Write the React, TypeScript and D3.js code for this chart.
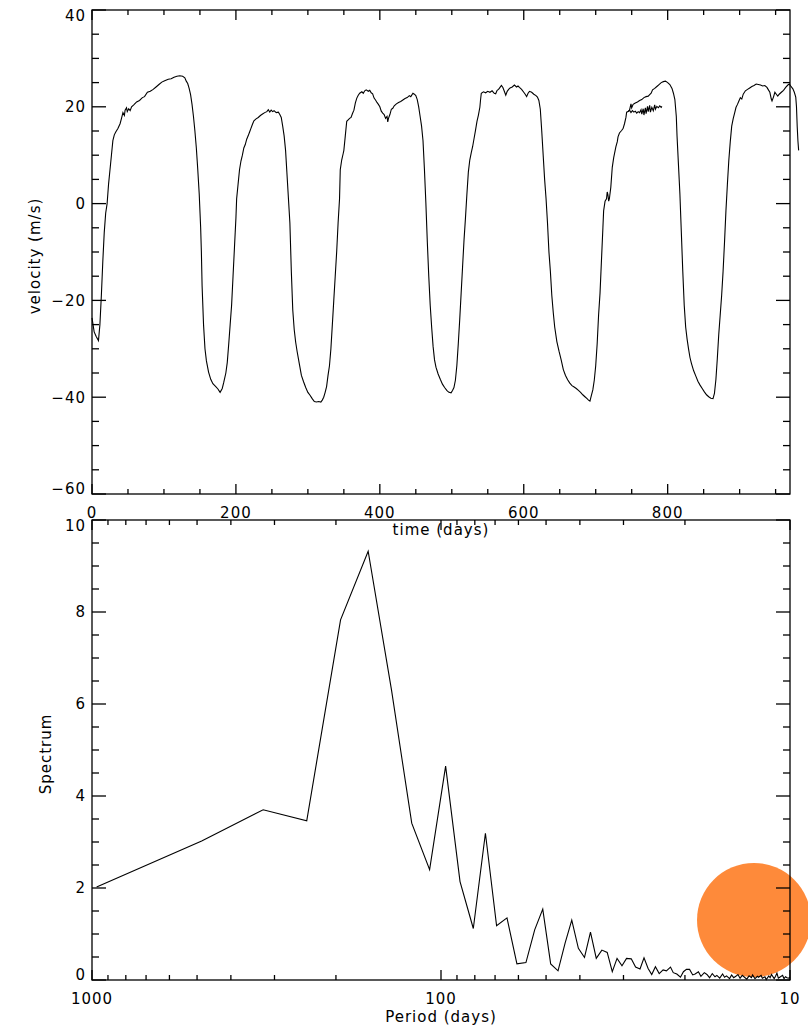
import React from "react";
import * as d3 from "d3";

// ---------- DATA ----------
// Zonal velocity time series: [time (days), velocity (m/s)]
const velocitySeries: [number, number][] = [
  [0, -23.6], [3, -26.5], [6, -27.5], [9, -28.3], [11, -25.0], [13, -19], [15, -12], [17, -6], [19, -2],
  [21, 0], [23, 4], [25, 7], [27, 10], [29, 13], [31, 14.2], [33, 14.8], [36, 15.5], [39, 16.5], [41, 17.6],
  [43, 18.8], [45, 18.2], [46, 19.3], [48, 19.8], [49, 19.0], [51, 19.6], [53, 19.2], [55, 20.0], [58, 20.4],
  [62, 21.0], [66, 21.3], [70, 21.9], [73, 22.1], [77, 23.0], [81, 23.2], [85, 23.6], [89, 24.1], [93, 24.6],
  [97, 25.1], [101, 25.4], [106, 25.7], [110, 25.8], [114, 26.1], [118, 26.3], [122, 26.4], [126, 26.3],
  [129, 26.0], [131, 25.3], [133, 24.8], [135, 23.8], [137, 22.5], [139, 20.5], [141, 18.0], [143, 15.0],
  [145, 11.5], [147, 7], [149, 2], [151, -5], [152, -10], [153, -17], [155, -25], [157, -30], [159, -32.5],
  [162, -34.8], [165, -36.3], [168, -37.2], [172, -37.8], [175, -38.3], [178, -39.0], [181, -38.2], [183, -37.0],
  [186, -35], [188, -32.8], [190, -29], [192, -25], [194, -21], [196, -15], [198, -9], [200, -3], [201, 1],
  [203, 4], [205, 7], [207, 8.8], [209, 10], [211, 11.5], [213, 12.2], [215, 13.3], [217, 14], [219, 14.8],
  [221, 15.6], [223, 16.4], [225, 17.1], [228, 17.5], [231, 17.8], [234, 18.2], [237, 18.5], [240, 18.8],
  [243, 19.0], [245, 19.4], [247, 18.9], [249, 19.3], [251, 19.0], [253, 19.2], [256, 18.8], [259, 18.9],
  [261, 18.4], [263, 17.8], [265, 16.0], [267, 14.0], [269, 11], [271, 6], [273, 1], [275, -4], [277, -14],
  [279, -22], [281, -26], [283, -28.6], [285, -30.5], [288, -33], [291, -35.5], [294, -36.8], [297, -38],
  [300, -39.0], [303, -39.6], [306, -40.3], [309, -40.9], [312, -41.0], [315, -40.9], [318, -41.0], [320, -40.6],
  [322, -40], [324, -39], [326, -37.8], [328, -35.5], [330, -33.5], [332, -30], [334, -25], [336, -20],
  [338, -15], [340, -10], [342, -4], [344, 1], [345, 7], [347, 9], [349, 10.3], [350, 11], [352, 14], [354, 17],
  [356, 17.3], [358, 17.6], [360, 17.8], [362, 18.6], [364, 19.3], [366, 20.8], [368, 21.8], [370, 22.4],
  [372, 22.8], [375, 23.1], [377, 22.8], [379, 23.3], [381, 23.5], [384, 23.2], [386, 23.4], [388, 22.9],
  [390, 22.7], [392, 21.8], [394, 21.4], [396, 20.9], [398, 20.5], [400, 20.0], [402, 19.1], [404, 18.7],
  [406, 18.4], [408, 17.6], [410, 18.0], [411, 16.9], [412, 17.6], [414, 18.4], [416, 19.5], [418, 19.7],
  [420, 20.2], [423, 20.6], [426, 20.9], [429, 21.1], [432, 21.4], [435, 21.7], [438, 21.9], [441, 22.3],
  [443, 22.1], [446, 22.8], [448, 22.6], [450, 22.3], [452, 21.5], [454, 20], [456, 18], [458, 16], [460, 13],
  [462, 7], [464, 0], [466, -8], [468, -15], [470, -21], [472, -25.5], [474, -29.5], [476, -32.3], [478, -33.8],
  [481, -35.2], [484, -36.3], [487, -37.3], [490, -38.0], [493, -38.6], [496, -39.0], [499, -39.1], [501, -38.6],
  [503, -38], [505, -36.5], [507, -33.5], [509, -29], [511, -24], [513, -18.5], [515, -13], [517, -7.5],
  [519, -3], [521, 2], [523, 6.5], [525, 9], [527, 10.5], [529, 11.8], [531, 13.5], [533, 15.2], [535, 17],
  [537, 18.3], [539, 19.9], [540, 21.5], [541, 22.8], [544, 23.1], [547, 22.9], [550, 23.2], [553, 23.0],
  [556, 23.3], [559, 22.8], [561, 22.7], [563, 23.4], [565, 23.6], [567, 24.0], [569, 24.4], [571, 24.0],
  [573, 23.2], [575, 22.4], [577, 23.2], [579, 23.6], [581, 23.9], [584, 24.1], [587, 24.5], [590, 24.1],
  [592, 24.3], [594, 24.0], [597, 23.6], [600, 23.0], [602, 22.6], [604, 22.1], [606, 22.8], [608, 23.2],
  [611, 23.0], [614, 22.6], [617, 22.3], [619, 22.0], [621, 21.3], [623, 19.5], [625, 15], [627, 10], [629, 5],
  [631, 1], [633, -4], [635, -10], [637, -14], [639, -19], [641, -22.5], [643, -25.5], [646, -28.5],
  [649, -30.5], [652, -32.3], [655, -34.3], [658, -35.5], [661, -36.4], [664, -37.1], [667, -37.6],
  [670, -37.9], [673, -38.2], [676, -38.6], [679, -39.0], [682, -39.5], [685, -39.9], [688, -40.3],
  [690, -40.6], [692, -40.8], [694, -39.6], [696, -38.5], [698, -36.5], [700, -33.5], [702, -29], [704, -23],
  [706, -18.5], [708, -11.7], [710, -5], [711, -1.5], [713, 0.5], [715, 1], [716, 2.4], [717, 1.8], [718, 0.5],
  [719, 1.0], [721, 3.4], [723, 7.5], [725, 9.5], [728, 11.7], [730, 12.8], [731, 13.8], [733, 14.6],
  [736, 15.1], [738, 15.5], [740, 16.5], [742, 17.8], [743, 18.9], [745, 19.0], [747, 19.3], [749, 20.6],
  [750, 19.8], [752, 20.5], [755, 20.8], [758, 21.0], [761, 21.3], [764, 21.5], [767, 21.9], [770, 22.1],
  [773, 22.2], [775, 22.5], [777, 22.8], [779, 23.5], [782, 23.8], [785, 24.2], [788, 24.6], [791, 25.0],
  [794, 25.2], [797, 25.3], [800, 25.0], [803, 24.6], [806, 23.8], [808, 22.8], [810, 21.5], [812, 18],
  [813, 14], [815, 8], [817, 2], [819, -6], [821, -14], [823, -21], [825, -25.5], [827, -28], [829, -30],
  [831, -31.8], [833, -33], [836, -34.5], [839, -35.6], [842, -36.7], [845, -37.5], [848, -38.2], [851, -38.9],
  [854, -39.5], [857, -39.9], [860, -40.2], [863, -40.3], [865, -39.2], [867, -36.4], [869, -32], [871, -27],
  [873, -23], [875, -19], [877, -14], [879, -8], [881, -1.4], [883, 4], [885, 9], [887, 12.8], [889, 16],
  [891, 17.5], [893, 18.7], [895, 19.9], [897, 20.5], [899, 21.2], [901, 21.9], [903, 21.6], [905, 22.6],
  [908, 23.3], [911, 23.6], [914, 23.9], [917, 24.2], [920, 24.4], [923, 24.7], [926, 24.6], [929, 24.5],
  [932, 24.3], [935, 24.4], [938, 24.0], [940, 23.5], [942, 23.0], [944, 21.6], [945, 21.2], [947, 22.0],
  [949, 23.0], [951, 22.6], [953, 22.2], [955, 22.6], [958, 23.0], [961, 23.4], [964, 24.0], [967, 24.5],
  [969, 24.7], [971, 24.3], [974, 23.7], [976, 23.0], [978, 22.0], [979, 20], [980, 16], [981, 13], [982, 11],
];

// Second, overlapping record segment
const overlapSeries: [number, number][] = [
  [745, 19.0], [747, 19.3], [749, 18.8], [751, 19.2], [753, 18.9], [755, 19.1], [757, 18.7], [759, 19.0],
  [761, 18.8], [763, 19.4], [764, 18.5], [766, 19.6], [767, 18.3], [769, 19.8], [770, 18.6], [772, 20.1],
  [773, 19.0], [775, 20.3], [776, 18.9], [778, 19.9], [780, 19.2], [782, 20.4], [783, 19.5], [785, 20.1],
  [787, 19.8], [789, 20.2], [791, 19.9], [792, 20.1],
];

// Spectrum: periods (days) and power
const spectrumPeriods: number[] = [
  970, 485, 323.3, 242.5, 194, 161.7, 138.6, 121.3, 107.8, 97, 88.2, 80.8, 74.6, 69.3, 64.7, 60.6, 57.1,
  53.9, 51.1, 48.5, 46.2, 44.1, 42.2, 40.4, 38.8, 37.3, 35.9, 34.6, 33.4, 32.3, 31.3, 30.3, 29.4, 28.5, 27.7,
  26.9, 26.2, 25.5, 24.9, 24.3, 23.7, 23.1, 22.6, 22.0, 21.6, 21.1, 20.6, 20.2, 19.8, 19.4, 19.0, 18.7, 18.3,
  18.0, 17.6, 17.3, 17.0, 16.7, 16.4, 16.2, 15.9, 15.6, 15.4, 15.2, 14.9, 14.7, 14.5, 14.3, 14.1, 13.9, 13.7,
  13.5, 13.3, 13.1, 12.9, 12.8, 12.6, 12.4, 12.3, 12.1, 12.0, 11.8, 11.7, 11.5, 11.4, 11.3, 11.1, 11.0, 10.9,
  10.8, 10.7, 10.5, 10.4, 10.3, 10.2, 10.1, 10.0,
];
const spectrumPower: number[] = [
  2.02, 3.02, 3.70, 3.46, 7.83, 9.32, 6.30, 3.41, 2.40, 4.65, 2.14, 1.12, 3.19, 1.18, 1.35, 0.35, 0.38,
  1.09, 1.54, 0.35, 0.20, 0.80, 1.30, 0.69, 0.49, 1.04, 0.47, 0.65, 0.60, 0.18, 0.47, 0.31, 0.47, 0.46, 0.28,
  0.24, 0.48, 0.25, 0.12, 0.29, 0.14, 0.22, 0.20, 0.28, 0.16, 0.13, 0.06, 0.18, 0.23, 0.23, 0.11, 0.13, 0.18,
  0.08, 0.16, 0.12, 0.05, 0.14, 0.07, 0.10, 0.04, 0.13, 0.06, 0.09, 0.03, 0.11, 0.05, 0.08, 0.12, 0.04, 0.10,
  0.06, 0.02, 0.09, 0.05, 0.11, 0.03, 0.08, 0.06, 0.10, 0.04, 0.07, 0.01, 0.09, 0.05, 0.12, 0.03, 0.08, 0.15,
  0.04, 0.06, 0.10, 0.03, 0.07, 0.05, 0.04, 0.06,
];

const timeTicks = [0, 200, 400, 600, 800];
const velocityTicks = [-60, -40, -20, 0, 20, 40];
const spectrumTicks = [0, 2, 4, 6, 8, 10];
const periodTicks = [1000, 100, 10];

// ---------- LAYOUT ----------
const W = 808, H = 1027;
const L = 92, R = 790;
const T1 = 10, B1 = 494;
const T2 = 520, B2 = 980;
const FONT = "DejaVu Sans";
const FS = 15;

export default function App() {
  const x1 = d3.scaleLinear().domain([0, 970]).range([L, R]);
  const y1 = d3.scaleLinear().domain([-60, 40]).range([B1, T1]);
  const x2 = d3.scaleLog().domain([1000, 10]).range([L, R]);
  const y2 = d3.scaleLinear().domain([0, 10]).range([B2, T2]);

  const line1 = d3.line<[number, number]>().x((d) => x1(d[0])).y((d) => y1(d[1]));
  const specPts: [number, number][] = spectrumPeriods.map((p, i) => [p, spectrumPower[i]]);
  const line2 = d3.line<[number, number]>().x((d) => x2(d[0])).y((d) => y2(d[1]));

  const axisStroke = { stroke: "#000", strokeWidth: 1.3 };
  const ticks: JSX.Element[] = [];
  let k = 0;
  const hTick = (y: number, len: number) => {
    ticks.push(<line key={k++} x1={L} x2={L + len} y1={y} y2={y} {...axisStroke} />);
    ticks.push(<line key={k++} x1={R} x2={R - len} y1={y} y2={y} {...axisStroke} />);
  };
  const vTick = (x: number, top: number, bot: number, len: number) => {
    ticks.push(<line key={k++} x1={x} x2={x} y1={bot} y2={bot - len} {...axisStroke} />);
    ticks.push(<line key={k++} x1={x} x2={x} y1={top} y2={top + len} {...axisStroke} />);
  };

  // top panel ticks
  d3.range(-60, 40.1, 5).forEach((v) => hTick(y1(v), v % 20 === 0 ? 14 : 7));
  d3.range(0, 970, 50).forEach((v) => vTick(x1(v), T1, B1, v % 200 === 0 ? 10 : 5));
  // bottom panel ticks
  d3.range(0, 10.01, 0.5).forEach((v) => hTick(y2(v), Math.abs(v % 2) < 1e-9 ? 14 : 7));
  [10, 100].forEach((dec) => {
    for (let m = 1; m <= 9; m++) {
      const v = dec * m;
      vTick(x2(v), T2, B2, m === 1 ? 10 : 5);
    }
  });
  vTick(x2(1000), T2, B2, 10);

  const clampY = (y: number, top: number, bot: number) => Math.min(Math.max(y, top + 5.5), bot - 5.5);
  const textStyle = { fontFamily: FONT, fontSize: FS, letterSpacing: 1, fill: "#000" } as const;

  return (
    <svg width={W} height={H} style={{ position: "absolute", left: 0, top: 0, background: "#fff" }}>
      <rect x={0} y={0} width={W} height={H} fill="#fff" />
      <circle cx={754} cy={920} r={57} fill="#fe8a3a" />

      {/* data */}
      <path d={line1(velocitySeries) || ""} fill="none" stroke="#000" strokeWidth={1.1} />
      <path d={line1(overlapSeries) || ""} fill="none" stroke="#000" strokeWidth={1.1} />
      <path d={line2(specPts) || ""} fill="none" stroke="#000" strokeWidth={1.1} />

      {/* frames */}
      <rect x={L} y={T1} width={R - L} height={B1 - T1} fill="none" {...axisStroke} />
      <rect x={L} y={T2} width={R - L} height={B2 - T2} fill="none" {...axisStroke} />
      {ticks}

      {/* top panel labels */}
      {velocityTicks.map((v) => (
        <text key={"vy" + v} x={86} y={clampY(y1(v), T1, B1)} dy="0.36em" textAnchor="end" {...textStyle}>
          {v < 0 ? "\u2212" + Math.abs(v) : String(v)}
        </text>
      ))}
      {timeTicks.map((v) => (
        <text key={"tx" + v} x={x1(v)} y={518} textAnchor="middle" {...textStyle}>
          {v}
        </text>
      ))}
      <text x={441} y={535} textAnchor="middle" {...textStyle}>time (days)</text>
      <text transform={`translate(40,256) rotate(-90)`} textAnchor="middle" {...textStyle}>velocity (m/s)</text>

      {/* bottom panel labels */}
      {spectrumTicks.map((v) => (
        <text key={"sy" + v} x={86} y={clampY(y2(v), T2, B2)} dy="0.36em" textAnchor="end" {...textStyle}>
          {v}
        </text>
      ))}
      {periodTicks.map((v) => (
        <text key={"px" + v} x={x2(v)} y={1004} textAnchor="middle" {...textStyle}>
          {v}
        </text>
      ))}
      <text x={441} y={1022} textAnchor="middle" {...textStyle}>Period (days)</text>
      <text transform={`translate(51,754) rotate(-90)`} textAnchor="middle" {...textStyle}>Spectrum</text>
    </svg>
  );
}
